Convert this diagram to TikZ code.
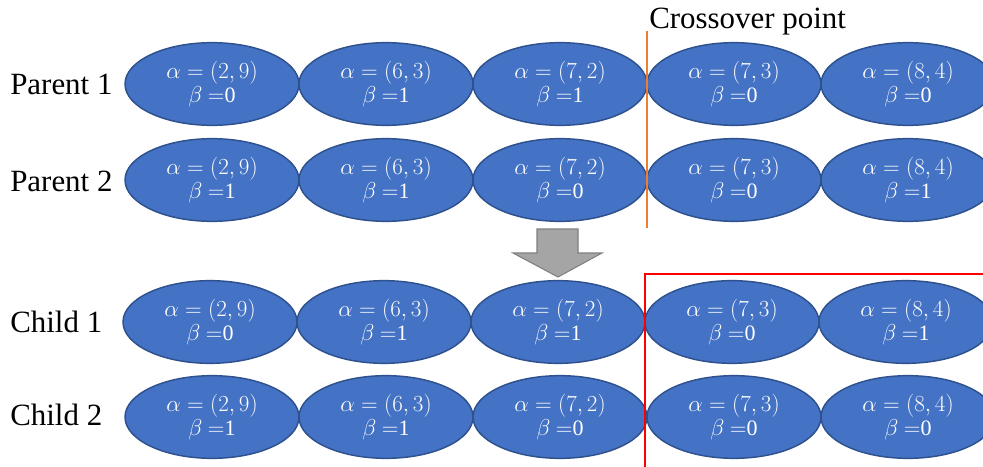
\documentclass[tikz,border=0pt]{standalone}
\usepackage{fontspec}
\setmainfont{Liberation Serif}
\usetikzlibrary{shapes.geometric}
\definecolor{gene}{HTML}{4472C4}
\definecolor{geneedge}{HTML}{2F528F}
\definecolor{xorange}{HTML}{ED7D31}
\definecolor{arrgray}{HTML}{A5A5A5}
\definecolor{arredge}{HTML}{7F7F7F}
\tikzset{
  gene/.style={ellipse, fill=gene, draw=geneedge, line width=1.1pt, minimum width=130.5pt, minimum height=62pt, inner sep=0pt, text=white, align=center, font=\fontsize{16.5}{18.5}\selectfont},
  rowlabel/.style={anchor=west, inner sep=0pt, font=\fontsize{23.2}{28}\selectfont},
}
\newcommand{\gtext}[3]{$\alpha=(#1,#2)$\\$\beta$ $=$#3}
\begin{document}
\begin{tikzpicture}[x=0.75pt,y=-0.75pt]
\clip (0,0) rectangle (983,467);
\fill[white] (0,0) rectangle (983,467);
% row labels
\node[rowlabel] (lp1) at (10,84) {Parent 1};
\node[rowlabel] (lp2) at (10,181) {Parent 2};
\node[rowlabel] (lc1) at (10,322) {Child 1};
\node[rowlabel] (lc2) at (10,415) {Child 2};
% Parent 1
\node[gene] (p1a) at (212,84) {\gtext{2}{9}{0}};
\node[gene] (p1b) at (386,84) {\gtext{6}{3}{1}};
\node[gene] (p1c) at (560,84) {\gtext{7}{2}{1}};
\node[gene] (p1d) at (734,84) {\gtext{7}{3}{0}};
\node[gene] (p1e) at (908,84) {\gtext{8}{4}{0}};
% Parent 2
\node[gene] (p2a) at (212,180) {\gtext{2}{9}{1}};
\node[gene] (p2b) at (386,180) {\gtext{6}{3}{1}};
\node[gene] (p2c) at (560,180) {\gtext{7}{2}{0}};
\node[gene] (p2d) at (734,180) {\gtext{7}{3}{0}};
\node[gene] (p2e) at (908,180) {\gtext{8}{4}{1}};
% Child 1
\node[gene] (c1a) at (210,322) {\gtext{2}{9}{0}};
\node[gene] (c1b) at (384,322) {\gtext{6}{3}{1}};
\node[gene] (c1c) at (558,322) {\gtext{7}{2}{1}};
\node[gene] (c1d) at (732,322) {\gtext{7}{3}{0}};
\node[gene] (c1e) at (906,322) {\gtext{8}{4}{1}};
% Child 2
\node[gene] (c2a) at (212,417) {\gtext{2}{9}{1}};
\node[gene] (c2b) at (386,417) {\gtext{6}{3}{1}};
\node[gene] (c2c) at (560,417) {\gtext{7}{2}{0}};
\node[gene] (c2d) at (734,417) {\gtext{7}{3}{0}};
\node[gene] (c2e) at (908,417) {\gtext{8}{4}{0}};
% crossover line and label
\coordinate (xtop) at (647,31);
\coordinate (xbot) at (647,228);
\draw[xorange, line width=1.5pt] (xtop) -- (xbot);
\node[anchor=base west, inner sep=0pt, font=\fontsize{23.2}{28}\selectfont] (xlabel) at (649,29) {Crossover point};
% down arrow
\draw[fill=arrgray, draw=arredge, line width=0.8pt] (537,229) -- (578,229) -- (578,253) -- (602,253) -- (558,277) -- (513,253) -- (537,253) -- cycle;
% red box
\draw[red, line width=1.6pt] (645,480) -- (645,274) -- (995,274);
\end{tikzpicture}
\end{document}
